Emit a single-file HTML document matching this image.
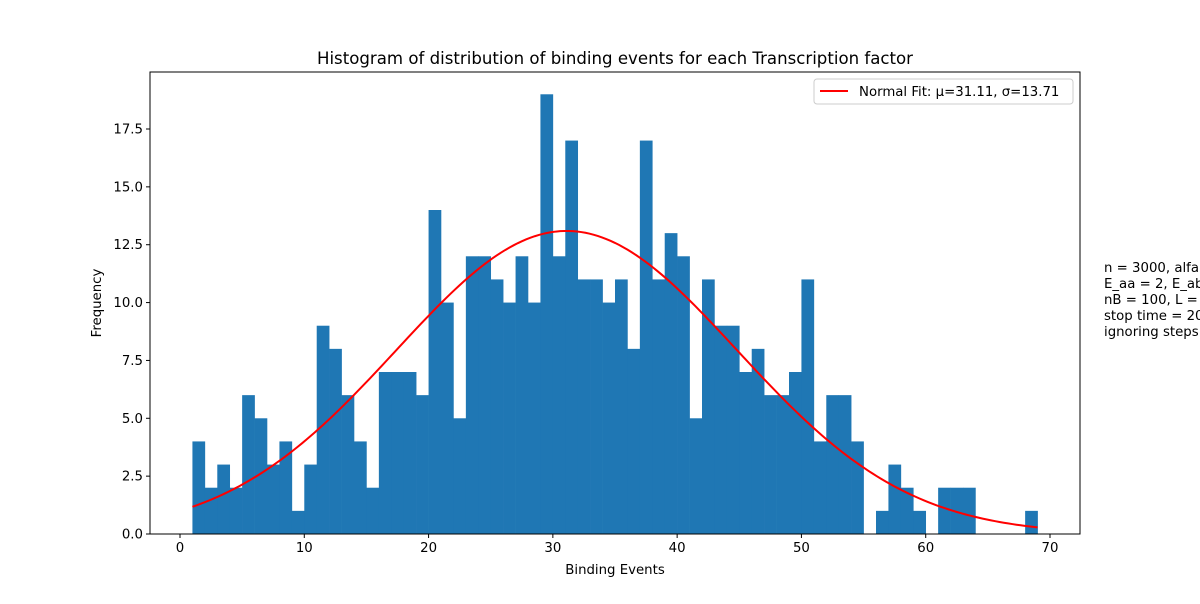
<!DOCTYPE html>
<html><head><meta charset="utf-8"><style>
body{margin:0;background:#fff;width:1200px;height:600px;overflow:hidden;font-family:"DejaVu Sans",sans-serif}
</style></head><body>
<svg id="chart" width="1200" height="600" xmlns="http://www.w3.org/2000/svg" font-family="DejaVu Sans, sans-serif"></svg>
<script>
const binStarts=[1,2,3,4,5,6,7,8,9,10,11,12,13,14,15,16,17,18,19,20,21,22,23,24,25,26,27,28,29,30,31,32,33,34,35,36,37,38,39,40,41,42,43,44,45,46,47,48,49,50,51,52,53,54,55,56,57,58,59,60,61,62,63,64,65,66,67,68];
const counts=[4,2,3,2,6,5,3,4,1,3,9,8,6,4,2,7,7,7,6,14,10,5,12,12,11,10,12,10,19,12,17,11,11,10,11,8,17,11,13,12,5,11,9,9,7,8,6,6,7,11,4,6,6,4,0,1,3,2,1,0,2,2,2,0,0,0,0,1];
const binWidth=1;
const fitMu=31.11, fitSigma=13.71;
const xTicks=[0,10,20,30,40,50,60,70];
const yTicks=[0,2.5,5,7.5,10,12.5,15,17.5];
const sideNote=["n = 3000, alfa = 1","E_aa = 2, E_ab = 1","nB = 100, L = 1000","stop time = 2000","ignoring steps = 100"];

const NS="http://www.w3.org/2000/svg";
const svg=document.getElementById('chart');
const L=150,R=1080,T=72,B=534;
const xs=v=>180+(v-0)*(1050-180)/70;
const ys=v=>534-v*(534-129)/17.5;
function mk(tag,attrs,parent){const e=document.createElementNS(NS,tag);for(const k in attrs)e.setAttribute(k,attrs[k]);(parent||svg).appendChild(e);return e;}

const bars=mk('g',{});


binStarts.forEach((s,i)=>{
  if(!counts[i])return;
  const r=mk('rect',{x:xs(s),y:ys(counts[i]),width:xs(s+binWidth)-xs(s)+0.3,height:ys(0)-ys(counts[i]),fill:'#1f77b4'},bars);
  
  
});
const N=counts.reduce((a,b)=>a+b,0);
const x0=binStarts[0], x1=binStarts[binStarts.length-1]+binWidth;
let d='';
for(let k=0;k<=200;k++){const x=x0+(x1-x0)*k/200;const y=N*binWidth*Math.exp(-0.5*((x-fitMu)/fitSigma)**2)/(fitSigma*Math.sqrt(2*Math.PI));d+=(k?'L':'M')+xs(x).toFixed(2)+','+ys(y).toFixed(2);}
const curve=mk('path',{d:d,fill:'none',stroke:'#ff0000','stroke-width':2});



const frame=mk('rect',{x:L,y:T,width:R-L,height:B-T,fill:'none',stroke:'#000','stroke-width':1});



xTicks.forEach(t=>{const x=xs(t);mk('line',{x1:x,x2:x,y1:B,y2:B+4,stroke:'#000'});
  const tx=mk('text',{x:x,y:B+18,'font-size':13.3,'text-anchor':'middle'});tx.textContent=t;
  
  });
yTicks.forEach(t=>{const y=ys(t);mk('line',{x1:L-4,x2:L,y1:y,y2:y,stroke:'#000'});
  const tx=mk('text',{x:L-7,y:y+4.5,'font-size':13.3,'text-anchor':'end'});tx.textContent=t.toFixed(1);
  
  });

const title=mk('text',{x:615,y:64,'font-size':16.6,'text-anchor':'middle'});title.textContent='Histogram of distribution of binding events for each Transcription factor';


const xl=mk('text',{x:615,y:574,'font-size':13.3,'text-anchor':'middle'});xl.textContent='Binding Events';


const yl=mk('text',{x:0,y:0,'font-size':13.3,'text-anchor':'middle',transform:'translate(101,303) rotate(-90)'});yl.textContent='Frequency';



const leg=mk('g',{});


mk('rect',{x:814,y:79,width:259,height:25,rx:3,fill:'#fff',stroke:'#ccc'},leg);
mk('line',{x1:820,x2:848,y1:91,y2:91,stroke:'#ff0000','stroke-width':2},leg);
const lt=mk('text',{x:859,y:96,'font-size':13.3},leg);lt.textContent='Normal Fit: μ='+fitMu.toFixed(2)+', σ='+fitSigma.toFixed(2);



sideNote.forEach((s,i)=>{const t=mk('text',{x:1104,y:272+i*16,'font-size':13.3});t.textContent=s;
  
  });
</script>
</body></html>
